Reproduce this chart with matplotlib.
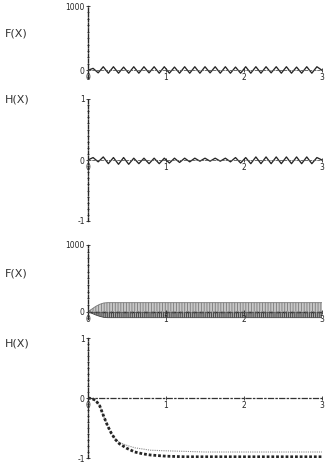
import numpy as np
import matplotlib
matplotlib.use('Agg')
import matplotlib.pyplot as plt
from matplotlib.ticker import MultipleLocator

# panel 1: F(X) small oscillation (peak / trough vertices)
f1_vals = [0, 30, -40, 55, -45, 55, -45, 50, -45, 55, -45, 55, -40, 55, -45, 55,
           -45, 50, -45, 55, -45, 55, -45, 55, -40, 55, -45, 55, -45, 50, -45, 55,
           -45, 55, -45, 55, -40, 55, -45, 55, -45, 50, -45, 55, -45, 55, 0]
# panel 2: H(X) oscillation
h1_vals = [0, 0.04, -0.03, 0.05, -0.06, 0.04, -0.07, 0.04, -0.07, 0.03, -0.06,
           0.03, -0.06, 0.03, -0.06, 0.03, -0.05, 0.03, -0.04, 0.03, -0.03, 0.03,
           -0.02, 0.03, -0.02, 0.03, -0.02, 0.03, -0.03, 0.04, -0.05, 0.04, -0.06,
           0.05, -0.06, 0.05, -0.06, 0.05, -0.06, 0.05, -0.06, 0.05, -0.06, 0.05,
           -0.06, 0.04, 0]
# panel 3: F(X) dense band envelope
x3 = [0, 0.05, 0.1, 0.15, 0.2, 0.25, 0.5, 1.0, 1.5, 2.0, 2.5, 3.0]
f3_upper = [0, 40, 80, 110, 130, 135, 135, 135, 135, 135, 135, 135]
f3_lower = [0, -25, -50, -70, -85, -90, -90, -90, -90, -90, -90, -90]
# panel 4: H(X) decay curves
x4 = [0, 0.05, 0.1, 0.15, 0.2, 0.25, 0.3, 0.35, 0.4, 0.5, 0.6, 0.7, 0.8, 1.0,
      1.25, 1.5, 2.0, 2.5, 3.0]
h4_low = [0, -0.01, -0.04, -0.13, -0.3, -0.46, -0.59, -0.69, -0.76, -0.84, -0.9,
          -0.93, -0.95, -0.97, -0.98, -0.98, -0.98, -0.98, -0.98]
h4_up = [0, -0.01, -0.04, -0.13, -0.3, -0.46, -0.59, -0.68, -0.74, -0.79, -0.83,
         -0.85, -0.87, -0.88, -0.89, -0.9, -0.9, -0.9, -0.9]

ink = '#262626'
W, H = 325, 470
plt.rcParams['hatch.linewidth'] = 0.6
fig = plt.figure(figsize=(3.25, 4.7), dpi=100)


def make_ax(top, bottom, ylo, yhi, yticks, ylabels, minor):
    ax = fig.add_axes([88 / W, 1 - bottom / H, 234 / W, (bottom - top) / H])
    ax.set_xlim(0, 3.0)
    ax.set_ylim(ylo, yhi)
    ax.patch.set_alpha(0)
    for s in ['top', 'right']:
        ax.spines[s].set_visible(False)
    ax.spines['bottom'].set_position(('data', 0))
    ax.spines['bottom'].set_linestyle((0, (3, 2)))
    ax.spines['bottom'].set_linewidth(0.6)
    ax.spines['bottom'].set_color('#555555')
    ax.spines['left'].set_linestyle((0, (2.5, 1.2)))
    ax.spines['left'].set_linewidth(1.0)
    ax.spines['left'].set_color(ink)
    ax.set_xticks([0, 1, 2, 3])
    ax.set_xticklabels(['0', '1', '2', '3'])
    ax.set_yticks(yticks)
    ax.set_yticklabels(ylabels)
    ax.yaxis.set_minor_locator(MultipleLocator(minor))
    ax.tick_params(axis='both', labelsize=5.5, colors=ink, length=2.5,
                   width=0.6, pad=1, direction='inout')
    ax.tick_params(axis='y', which='minor', length=2, width=0.5, direction='inout')
    return ax


# panel 1
ax1 = make_ax(6, 78, -120, 1000, [0, 1000], ['0', '1000'], 100)
x1 = np.linspace(0, 3, len(f1_vals))
ax1.plot(x1, f1_vals, color=ink, lw=0.95)

# panel 2
ax2 = make_ax(99, 221, -1, 1, [-1, 0, 1], ['-1', '0', '1'], 0.1)
x2 = np.linspace(0, 3, len(h1_vals))
ax2.plot(x2, h1_vals, color=ink, lw=0.95)

# panel 3
ax3 = make_ax(245, 319, -110, 1000, [0, 1000], ['0', '1000'], 100)
ax3.fill_between(x3, 0, f3_upper, facecolor='#c8c8c8', edgecolor='#7a7a7a',
                 hatch='||||||', lw=0)
ax3.fill_between(x3, f3_lower, 0, facecolor='#a8a8a8', edgecolor='#3a3a3a',
                 hatch='||||||||', lw=0)
ax3.plot(x3, f3_upper, color='#777777', lw=0.6)
ax3.plot(x3, f3_lower, color='#444444', lw=0.6)
ax3.plot([0, 3], [0, 0], color=ink, lw=1.0, ls=(0, (3, 2)))

# panel 4
ax4 = make_ax(338, 458, -1, 1, [-1, 0, 1], ['-1', '0', '1'], 0.1)
ax4.spines['bottom'].set_linestyle((0, (4, 2, 1, 2)))
ax4.spines['bottom'].set_linewidth(0.9)
ax4.spines['bottom'].set_color('#333333')
ax4.plot(x4, h4_up, color='#8a8a8a', lw=0.8, ls=(0, (1, 1)))
ax4.plot(x4, h4_low, color=ink, lw=2.0, ls=(0, (1, 0.7)))

# panel titles at left
for ypix, txt in [(33, 'F(X)'), (100, 'H(X)'), (273, 'F(X)'), (343, 'H(X)')]:
    fig.text(5 / W, 1 - ypix / H, txt, fontsize=8, color='#333333', va='center')

fig.savefig('out.png', dpi=100)
